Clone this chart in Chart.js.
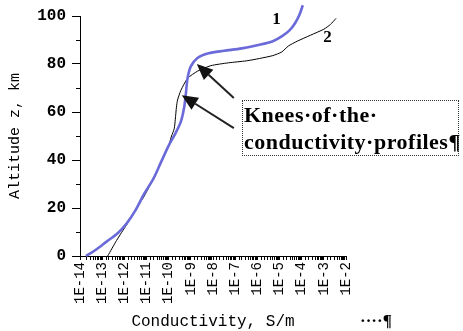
<!DOCTYPE html>
<html>
<head>
<meta charset="utf-8">
<script src="https://cdn.jsdelivr.net/npm/chart.js@4.4.0/dist/chart.umd.min.js"></script>
<style>
  html, body { margin: 0; padding: 0; background: #fff; }
  #wrap { position: relative; width: 463px; height: 331px; overflow: hidden; }
  #c { position: absolute; left: 0; top: 0; }
  .note {
    position: absolute; left: 242px; top: 100px; width: 217px; height: 56px;
    box-sizing: border-box; border: 1px dotted #333;
    font: bold 22px "Liberation Serif", serif; line-height: 27px; color: #000;
    padding-left: 1px; white-space: nowrap; letter-spacing: 0.5px;
  }
  .mark { position: absolute; left: 360px; top: 311px; font: bold 17px "Liberation Serif", serif; color: #000; }
</style>
</head>
<body>
<div id="wrap">
  <canvas id="c" width="463" height="331"></canvas>
  <div class="note">Knees·of·the·<br>conductivity·profiles¶</div>
  <div class="mark">····¶</div>
</div>
<script>
// Conductivity profiles: log10(sigma, S/m) against altitude (km)
const logSigma1 = [-13.73, -13.3, -12.8, -12.3, -11.9, -11.5, -11.1, -10.7, -10.35, -10.0, -9.7, -9.45, -9.3, -9.22, -9.15, -9.0, -8.7, -8.2, -7.5, -6.7, -5.9, -5.3, -4.9, -4.55, -4.3, -4.1, -3.95];
const altitude1 = [0, 2.5, 6, 9.5, 13.5, 19, 26, 32, 39, 46, 51, 56, 62, 68, 74, 79, 82.5, 84.5, 85.5, 86.5, 88, 89.5, 91.5, 94, 97, 100.5, 104.5];

const logSigma2 = [-12.75, -12.35, -11.9, -11.45, -11.1, -10.7, -10.35, -10.0, -9.87, -9.75, -9.7, -9.65, -9.6, -9.45, -9.15, -8.7, -8.1, -7.3, -6.5, -5.9, -5.3, -4.9, -4.6, -4.2, -3.6, -3.0, -2.7, -2.45];
const altitude2 = [0, 6.5, 13, 20, 25, 32, 39, 46, 50, 53, 57, 62, 65, 69, 74, 77, 79.3, 80.5, 81.3, 82.3, 83.5, 85, 87.5, 89.5, 92, 94.5, 96.5, 99];

const curveNames = ['1', '2'];
const xExpMin = -14, xExpMax = -2;
const yMin = 0, yMax = 100;

// Curve labels and "knee" arrows, in data units (log10 sigma, altitude)
const curveLabelPos = [[-5.13, 98.3], [-2.83, 90.8]];
const kneeArrows = [
  { from: [-7.06, 65.8], to: [-8.73, 80.0] },
  { from: [-7.06, 53.3], to: [-9.41, 67.0] }
];

const toPoints = (logs, alts) => logs.map((v, i) => ({ x: Math.pow(10, v), y: alts[i] }));

const decorations = {
  id: 'decorations',
  afterDraw(chart) {
    const { ctx, scales: { x, y } } = chart;
    const px = v => x.getPixelForValue(Math.pow(10, v));
    const py = a => y.getPixelForValue(a);
    ctx.save();
    // minor ticks on the altitude axis
    ctx.strokeStyle = '#000';
    ctx.lineWidth = 1;
    for (let a = yMin + 10; a < yMax; a += 20) {
      const yy = Math.round(py(a)) + 0.5;
      ctx.beginPath();
      ctx.moveTo(x.left - 4, yy);
      ctx.lineTo(x.left, yy);
      ctx.stroke();
    }
    // arrows
    ctx.strokeStyle = '#222';
    ctx.fillStyle = '#111';
    kneeArrows.forEach(ar => {
      const x0 = px(ar.from[0]), y0 = py(ar.from[1]);
      const x1 = px(ar.to[0]), y1 = py(ar.to[1]);
      const ang = Math.atan2(y1 - y0, x1 - x0);
      const headLen = 16, headW = 7;
      const bx = x1 - headLen * Math.cos(ang), by = y1 - headLen * Math.sin(ang);
      ctx.lineWidth = 2;
      ctx.beginPath();
      ctx.moveTo(x0, y0);
      ctx.lineTo(bx, by);
      ctx.stroke();
      ctx.beginPath();
      ctx.moveTo(x1, y1);
      ctx.lineTo(bx + headW * Math.sin(ang), by - headW * Math.cos(ang));
      ctx.lineTo(bx - headW * Math.sin(ang), by + headW * Math.cos(ang));
      ctx.closePath();
      ctx.fill();
    });
    // curve numbers
    ctx.fillStyle = '#000';
    ctx.font = 'bold 17px "Liberation Serif", serif';
    ctx.textAlign = 'center';
    ctx.textBaseline = 'middle';
    curveLabelPos.forEach((p, i) => ctx.fillText(curveNames[i], px(p[0]), py(p[1])));
    ctx.restore();
  }
};

new Chart(document.getElementById('c'), {
  type: 'scatter',
  data: {
    datasets: [
      {
        label: curveNames[0],
        data: toPoints(logSigma1, altitude1),
        showLine: true,
        borderColor: '#6a6ad8',
        borderWidth: 2.6,
        pointRadius: 0,
        tension: 0.3,
        clip: false
      },
      {
        label: curveNames[1],
        data: toPoints(logSigma2, altitude2),
        showLine: true,
        borderColor: '#000',
        borderWidth: 1,
        pointRadius: 0,
        tension: 0.2,
        clip: false
      }
    ]
  },
  plugins: [decorations],
  options: {
    responsive: false,
    animation: false,
    layout: { padding: { left: 0, top: 16, right: 117, bottom: 0 } },
    plugins: { legend: { display: false }, tooltip: { enabled: false } },
    scales: {
      x: {
        type: 'logarithmic',
        min: Math.pow(10, xExpMin),
        max: Math.pow(10, xExpMax),
        afterFit: s => { s.height = 75; },
        border: { color: '#000', width: 1 },
        grid: { drawOnChartArea: false, tickLength: 4, tickColor: '#000' },
        ticks: {
          autoSkip: false,
          minRotation: 90,
          maxRotation: 90,
          padding: 2,
          color: '#000',
          font: { family: 'Liberation Mono', size: 14 },
          callback: v => {
            const e = Math.log10(v);
            return Math.abs(e - Math.round(e)) < 1e-6 ? '1E' + Math.round(e) : '';
          }
        },
        title: {
          display: true,
          text: 'Conductivity, S/m',
          color: '#000',
          font: { family: 'Liberation Mono', size: 16 },
          padding: 0
        }
      },
      y: {
        min: yMin,
        max: yMax,
        afterFit: s => { s.width = 80; },
        border: { color: '#000', width: 1 },
        grid: { drawOnChartArea: false, tickLength: 8, tickColor: '#000' },
        ticks: {
          stepSize: 20,
          padding: 6,
          color: '#000',
          font: { family: 'Liberation Mono', size: 16, weight: 'bold' }
        },
        title: {
          display: true,
          text: 'Altitude z, km',
          color: '#000',
          font: { family: 'Liberation Mono', size: 15 },
          padding: { top: 6, bottom: 0 }
        }
      }
    }
  }
});
</script>
</body>
</html>
